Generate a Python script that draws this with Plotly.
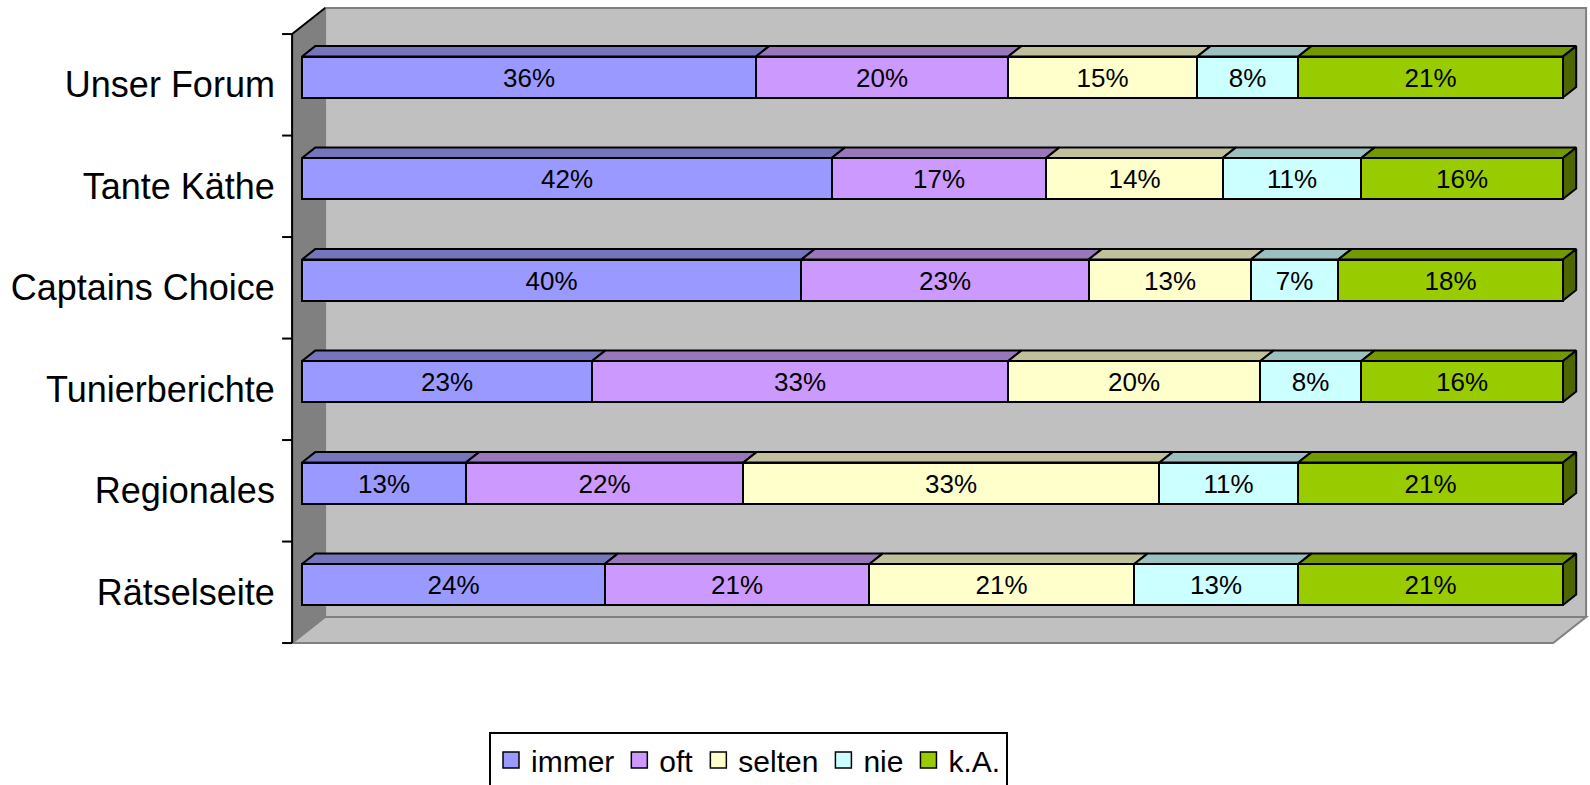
import plotly.graph_objects as go

# Survey: how often each section is read
categories = ["Unser Forum", "Tante Käthe", "Captains Choice", "Tunierberichte", "Regionales", "Rätselseite"]
series_names = ["immer", "oft", "selten", "nie", "k.A."]
immer = [36, 42, 40, 23, 13, 24]
oft = [20, 17, 23, 33, 22, 21]
selten = [15, 14, 13, 20, 33, 21]
nie = [8, 11, 7, 8, 11, 13]
ka = [21, 16, 18, 16, 21, 21]
series_values = [immer, oft, selten, nie, ka]

front_colors = ["#9999FF", "#CC99FF", "#FFFFCC", "#CCFFFF", "#99CC00"]
top_colors = ["#7575BB", "#9977BB", "#C0C09C", "#9CC0C0", "#739900"]
side_color = "#4D6600"
FONT = "Liberation Sans, Arial, sans-serif"

W, H = 1590, 785
# axis scaling (pixels per data unit) and origin of the bar fronts
PX_X, X0_PX = 1261.0, 302.0
PX_Y, Y0_PX = 101.5, 584.5
x_range = [-X0_PX / PX_X, (W - X0_PX) / PX_X]
y_range = [(Y0_PX - H) / PX_Y, Y0_PX / PX_Y]

# 3D depth of the chart box (data units) and where bars sit inside it
DX, DY = 33.0 / PX_X, 26.0 / PX_Y
BAR_FRONT, BAR_BACK = 0.3, 0.7
BAR_W = 0.404
bdx, bdy = (BAR_BACK - BAR_FRONT) * DX, (BAR_BACK - BAR_FRONT) * DY

n = len(categories)
ypos = [n - 1 - i for i in range(n)]  # first category on top
totals = [sum(s[i] for s in series_values) for i in range(n)]
shares = [[s[i] / totals[i] for i in range(n)] for s in series_values]

fig = go.Figure()

# front faces of the stacked bars
for name, vals, sh, col in zip(series_names, series_values, shares, front_colors):
    fig.add_trace(go.Bar(
        y=ypos, x=sh, orientation="h", width=BAR_W, name=name,
        marker=dict(color=col, line=dict(color="black", width=2)),
        text=[f"{v}%" for v in vals], textposition="inside",
        insidetextanchor="middle", textangle=0,
        textfont=dict(size=26, color="black", family=FONT),
        showlegend=False, hoverinfo="skip",
    ))

# top faces of every segment
cum = [0.0] * n
for k, (sh, col) in enumerate(zip(shares, top_colors)):
    xs, ys = [], []
    for i in range(n):
        x0, x1 = cum[i], cum[i] + sh[i]
        yt = ypos[i] + BAR_W / 2
        xs += [x0, x1, x1 + bdx, x0 + bdx, x0, None]
        ys += [yt, yt, yt + bdy, yt + bdy, yt, None]
        cum[i] = x1
    fig.add_trace(go.Scatter(
        x=xs, y=ys, mode="lines", fill="toself", fillcolor=col,
        line=dict(color="black", width=2), showlegend=False, hoverinfo="skip",
    ))

# right-hand side faces of the last segment
xs, ys = [], []
for i in range(n):
    xe = cum[i]
    yb, yt = ypos[i] - BAR_W / 2, ypos[i] + BAR_W / 2
    xs += [xe, xe, xe + bdx, xe + bdx, xe, None]
    ys += [yb, yt, yt + bdy, yb + bdy, yb, None]
fig.add_trace(go.Scatter(
    x=xs, y=ys, mode="lines", fill="toself", fillcolor=side_color,
    line=dict(color="black", width=2), showlegend=False, hoverinfo="skip",
))

# legend entries
for name, col in zip(series_names, front_colors):
    fig.add_trace(go.Scatter(
        x=[None], y=[None], mode="markers", name=name,
        marker=dict(symbol="square", size=16, color=col, line=dict(color="black", width=1.5)),
    ))

# chart box: back wall, left wall, floor
fx0 = -BAR_FRONT * DX            # front plane, value 0
fx1 = 1 - BAR_FRONT * DX         # front plane, value 100%
bx0, bx1 = fx0 + DX, fx1 + DX    # back plane
fy_top = (n - 0.5) - BAR_FRONT * DY
fy_bot = -0.5 - BAR_FRONT * DY
by_top, by_bot = fy_top + DY, fy_bot + DY


def path(pts):
    return "M " + " L ".join(f"{x},{y}" for x, y in pts) + " Z"


shapes = [
    dict(type="path", path=path([(bx0, by_bot), (bx0, by_top), (bx1, by_top), (bx1, by_bot)]),
         fillcolor="#C0C0C0", line=dict(color="#808080", width=2), layer="below"),
    dict(type="path", path=path([(fx0, fy_bot), (bx0, by_bot), (bx1, by_bot), (fx1, fy_bot)]),
         fillcolor="#C0C0C0", line=dict(color="#808080", width=2), layer="below"),
    dict(type="path", path=path([(fx0, fy_bot), (fx0, fy_top), (bx0, by_top), (bx0, by_bot)]),
         fillcolor="#808080", line=dict(color="#808080", width=1), layer="below"),
    # axis line and upper edge of the left wall
    dict(type="line", x0=fx0, y0=fy_bot, x1=fx0, y1=fy_top, line=dict(color="black", width=2)),
    dict(type="line", x0=fx0, y0=fy_top, x1=bx0, y1=by_top, line=dict(color="black", width=2)),
]
tick_len = 10.0 / PX_X
for b in range(n + 1):
    yb = b - 0.5 - BAR_FRONT * DY
    shapes.append(dict(type="line", x0=fx0 - tick_len, y0=yb, x1=fx0, y1=yb,
                       line=dict(color="black", width=2)))

fig.update_layout(
    width=W, height=H,
    margin=dict(l=0, r=0, t=0, b=0, autoexpand=False),
    paper_bgcolor="white", plot_bgcolor="rgba(0,0,0,0)",
    barmode="stack", bargap=0,
    shapes=shapes,
    uniformtext=dict(minsize=26, mode="show"),
    xaxis=dict(range=x_range, visible=False, fixedrange=True),
    yaxis=dict(
        range=y_range, anchor="free", position=(X0_PX - BAR_FRONT * 33) / W,
        tickvals=[y - BAR_FRONT * DY for y in ypos], ticktext=categories,
        ticks="outside", ticklen=10, tickcolor="rgba(0,0,0,0)",
        showline=False, showgrid=False, zeroline=False, fixedrange=True,
        tickfont=dict(size=36, color="black", family=FONT),
    ),
    legend=dict(
        orientation="h", x=489 / W, xanchor="left", y=(H - 732) / H, yanchor="top",
        bordercolor="black", borderwidth=2, bgcolor="white", traceorder="normal",
        font=dict(size=30, color="black", family=FONT), itemwidth=30,
    ),
    showlegend=True,
)

fig.write_html("out.html")
